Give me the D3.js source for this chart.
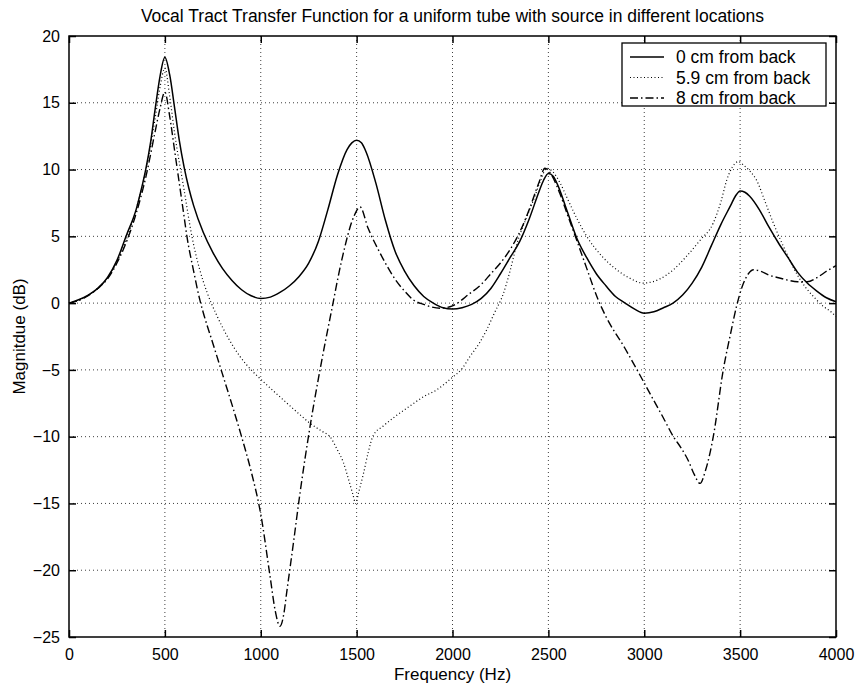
<!DOCTYPE html>
<html>
<head>
<meta charset="utf-8">
<script src="https://cdnjs.cloudflare.com/ajax/libs/d3/7.8.5/d3.min.js"></script>
<style>
  body { margin: 0; background: #fff; }
  svg { font-family: "Liberation Sans", Arial, sans-serif; }
</style>
</head>
<body>
<svg id="chart" width="858" height="685"></svg>
<script>
// values, [frequency Hz, magnitude dB]
var back0 = [[0,0],[50,0.25],[100,0.6],[150,1.1],[200,1.9],[250,3.2],[300,5.1],[350,7.0],[375,8.4],[400,10.0],[425,12.0],[450,14.6],[475,17.0],[500,18.4],[525,17.1],[550,14.7],[575,12.2],[600,10.2],[625,8.6],[650,7.3],[700,5.3],[750,3.8],[800,2.6],[850,1.7],[900,1.0],[950,0.55],[1000,0.35],[1050,0.45],[1100,0.8],[1150,1.3],[1200,2.0],[1250,3.0],[1300,4.6],[1350,7.0],[1400,9.6],[1450,11.5],[1475,12.0],[1500,12.2],[1525,12.0],[1550,11.3],[1600,9.0],[1650,6.2],[1700,3.9],[1750,2.4],[1800,1.3],[1850,0.5],[1900,0.0],[1950,-0.35],[2000,-0.45],[2050,-0.35],[2100,-0.1],[2150,0.35],[2200,1.1],[2250,2.2],[2300,3.4],[2350,4.6],[2400,6.3],[2450,8.3],[2475,9.2],[2500,9.7],[2525,9.5],[2550,8.8],[2600,6.8],[2650,4.8],[2700,3.4],[2750,2.2],[2800,1.3],[2850,0.5],[2900,0.0],[2950,-0.45],[3000,-0.75],[3050,-0.65],[3100,-0.35],[3150,0.0],[3200,0.6],[3250,1.5],[3300,2.7],[3350,4.3],[3400,5.9],[3450,7.3],[3475,8.0],[3500,8.4],[3525,8.3],[3550,8.0],[3600,7.0],[3650,5.7],[3700,4.5],[3750,3.4],[3800,2.3],[3850,1.5],[3900,0.9],[3950,0.4],[4000,0.1]];

var back59 = [[0,0],[50,0.2],[100,0.6],[150,1.1],[200,1.9],[250,3.1],[300,4.8],[350,7.0],[400,9.9],[450,13.9],[475,16.2],[500,17.6],[525,15.5],[550,12.8],[600,8.5],[641,5.0],[680,2.6],[720,0.8],[770,-0.9],[830,-2.6],[892,-4.0],[950,-5.0],[1000,-5.7],[1060,-6.5],[1118,-7.25],[1200,-8.3],[1257,-9.0],[1320,-9.6],[1361,-10.0],[1400,-11.0],[1430,-11.9],[1460,-13.3],[1480,-14.3],[1495,-15.0],[1510,-14.2],[1535,-12.8],[1560,-11.2],[1587,-9.9],[1639,-9.2],[1700,-8.5],[1778,-7.7],[1850,-7.0],[1917,-6.5],[1996,-5.6],[2050,-4.9],[2091,-4.0],[2140,-3.0],[2178,-2.0],[2220,-0.7],[2265,0.7],[2300,2.4],[2335,4.4],[2380,6.2],[2422,7.7],[2460,9.2],[2491,10.1],[2525,9.8],[2561,9.0],[2600,7.8],[2650,6.3],[2700,5.0],[2780,3.5],[2856,2.5],[2920,1.9],[2995,1.5],[3080,1.8],[3152,2.5],[3220,3.5],[3291,4.7],[3360,6.0],[3400,7.6],[3430,9.2],[3460,10.2],[3491,10.6],[3520,10.3],[3550,9.9],[3586,9.2],[3630,7.6],[3673,6.0],[3740,3.8],[3795,2.2],[3840,1.2],[3882,0.5],[3930,-0.2],[3969,-0.6],[4000,-1.0]];

var back8 = [[0,0],[50,0.2],[100,0.55],[150,1.1],[200,1.8],[250,3.0],[300,4.6],[350,6.7],[400,9.4],[450,12.9],[475,14.6],[500,15.8],[525,14.0],[550,11.5],[575,9.0],[600,6.5],[615,5.0],[650,2.4],[683,0.2],[700,-0.7],[750,-3.0],[800,-5.3],[850,-7.6],[900,-10.0],[950,-12.6],[1000,-15.8],[1050,-20.6],[1075,-23.0],[1100,-24.2],[1120,-23.3],[1135,-21.7],[1170,-18.0],[1205,-14.2],[1257,-9.25],[1309,-5.0],[1370,-0.5],[1422,3.2],[1486,6.5],[1518,7.2],[1560,5.6],[1613,4.0],[1650,3.0],[1700,1.8],[1750,0.9],[1796,0.24],[1850,-0.1],[1935,-0.38],[2000,-0.2],[2091,0.73],[2150,1.4],[2200,2.2],[2250,3.0],[2300,4.0],[2350,5.3],[2400,7.0],[2450,9.0],[2482,10.1],[2520,9.5],[2560,8.2],[2600,6.6],[2648,4.7],[2700,2.6],[2760,0.24],[2800,-1.0],[2900,-3.4],[2978,-5.4],[3050,-7.3],[3100,-8.6],[3152,-10.0],[3190,-10.8],[3230,-11.8],[3260,-12.8],[3291,-13.5],[3320,-12.5],[3360,-10.0],[3412,-5.0],[3450,-2.3],[3482,-0.2],[3510,1.2],[3543,2.2],[3570,2.5],[3604,2.4],[3650,2.1],[3700,1.9],[3743,1.74],[3800,1.6],[3850,1.6],[3900,1.9],[3952,2.4],[4000,2.8]];

var seriesNames = ['0 cm from back', '5.9 cm from back', '8 cm from back'];
var xTicks = [0, 500, 1000, 1500, 2000, 2500, 3000, 3500, 4000];
var yTicks = [-25, -20, -15, -10, -5, 0, 5, 10, 15, 20];

var W = 858, H = 685;
var margin = {top: 36, right: 22, bottom: 48, left: 69};
var w = W - margin.left - margin.right;
var h = H - margin.top - margin.bottom;

var svg = d3.select('#chart');
var g = svg.append('g').attr('transform', 'translate(' + margin.left + ',' + margin.top + ')');

var x = d3.scaleLinear().domain([0, 4000]).range([0, w]);
var y = d3.scaleLinear().domain([-25, 20]).range([h, 0]);

//grid
g.append('g').selectAll('line').data(xTicks.slice(1, -1)).enter().append('line')
  .attr('x1', function(d) { return x(d); }).attr('x2', function(d) { return x(d); })
  .attr('y1', 0).attr('y2', h)
  .attr('stroke', '#000').attr('stroke-width', 1).attr('stroke-dasharray', '1,3').attr('opacity', 0.75);
g.append('g').selectAll('line').data(yTicks.slice(1, -1)).enter().append('line')
  .attr('x1', 0).attr('x2', w)
  .attr('y1', function(d) { return y(d); }).attr('y2', function(d) { return y(d); })
  .attr('stroke', '#000').attr('stroke-width', 1).attr('stroke-dasharray', '1,3').attr('opacity', 0.75);

//axes, ticks pointing in
var tick = 7;
var xAxis = g.append('g').attr('transform', 'translate(0,' + h + ')')
  .call(d3.axisBottom(x).tickValues(xTicks).tickSizeInner(-tick).tickSizeOuter(0).tickPadding(12).tickFormat(d3.format('d')));
var xTop = g.append('g')
  .call(d3.axisTop(x).tickValues(xTicks).tickSizeInner(-tick).tickSizeOuter(0).tickFormat(''));
var yAxis = g.append('g')
  .call(d3.axisLeft(y).tickValues(yTicks).tickSizeInner(-tick).tickSizeOuter(0).tickPadding(9).tickFormat(d3.format('d')));
var yRight = g.append('g').attr('transform', 'translate(' + w + ',0)')
  .call(d3.axisRight(y).tickValues(yTicks).tickSizeInner(-tick).tickSizeOuter(0).tickFormat(''));

[xAxis, xTop, yAxis, yRight].forEach(function(a) {
  a.select('.domain').remove();
  a.selectAll('line').attr('stroke', '#000').attr('stroke-width', 1.5);
  a.selectAll('text').attr('fill', '#000').style('font-size', '16px').style('font-family', '"Liberation Sans", Arial, sans-serif');
});

g.append('rect').attr('width', w).attr('height', h)
  .attr('fill', 'none').attr('stroke', '#000').attr('stroke-width', 1.5);

//curves
var line = d3.line()
  .x(function(d) { return x(d[0]); })
  .y(function(d) { return y(d[1]); })
  .curve(d3.curveMonotoneX);

var styles = [
  {dash: null, width: 1.5},
  {dash: '1,2.5', width: 1.2},
  {dash: '8,3,1.5,3', width: 1.4}
];

[back0, back59, back8].forEach(function(s, i) {
  g.append('path').datum(s)
    .attr('d', line)
    .attr('fill', 'none')
    .attr('stroke', '#000')
    .attr('stroke-width', styles[i].width)
    .attr('stroke-dasharray', styles[i].dash);
});

//labels
svg.append('text').attr('x', margin.left + w / 2).attr('y', 22)
  .attr('text-anchor', 'middle').style('font-size', '17.5px')
  .text('Vocal Tract Transfer Function for a uniform tube with source in different locations');

svg.append('text').attr('x', margin.left + w / 2).attr('y', 680)
  .attr('text-anchor', 'middle').style('font-size', '17px')
  .text('Frequency (Hz)');

svg.append('text').attr('transform', 'translate(25,' + (margin.top + h / 2) + ') rotate(-90)')
  .attr('text-anchor', 'middle').style('font-size', '17px')
  .text('Magnitdue (dB)');

//legend
var legend = svg.append('g').attr('transform', 'translate(622,43)');
legend.append('rect').attr('width', 204).attr('height', 63)
  .attr('fill', '#fff').attr('stroke', '#000').attr('stroke-width', 1.3);

seriesNames.forEach(function(name, i) {
  var ly = 14 + i * 20.5;
  legend.append('line').attr('x1', 8).attr('x2', 42).attr('y1', ly).attr('y2', ly)
    .attr('stroke', '#000').attr('stroke-width', styles[i].width)
    .attr('stroke-dasharray', styles[i].dash);
  legend.append('text').attr('x', 54).attr('y', ly + 6)
    .style('font-size', '17.5px').text(name);
});
</script>
</body>
</html>
